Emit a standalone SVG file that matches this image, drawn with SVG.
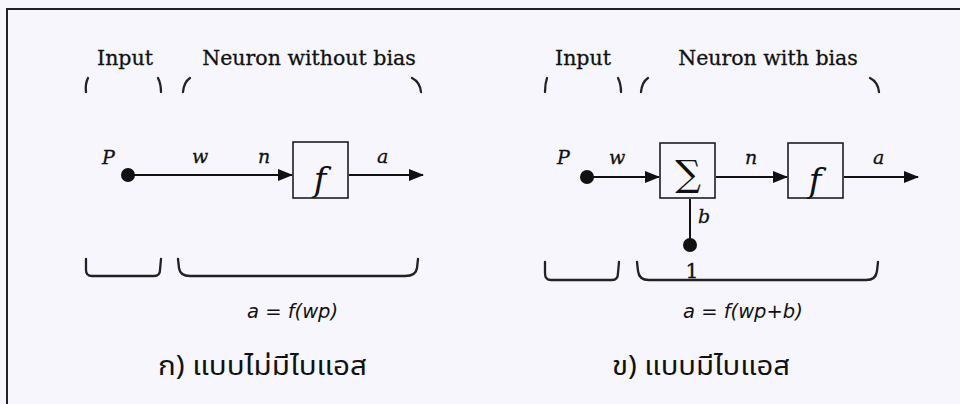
<svg xmlns="http://www.w3.org/2000/svg" width="960" height="404" viewBox="0 0 960 404">
<defs>
<marker id="arr" markerWidth="15" markerHeight="12" refX="14" refY="6" orient="auto" markerUnits="userSpaceOnUse">
<path d="M0,0 L15,6 L0,12 Z" fill="#111"/>
</marker>
<style>
.lbl{font-family:"DejaVu Serif","Liberation Serif",serif;font-size:20.5px;fill:#111;stroke:#111;stroke-width:0.3}
.var{font-family:"DejaVu Serif","Liberation Serif",serif;font-style:italic;font-size:19px;fill:#111;stroke:#111;stroke-width:0.3}
.fn{font-family:"DejaVu Serif","Liberation Serif",serif;font-style:italic;font-size:34px;fill:#111}
.sum{font-family:"DejaVu Serif","Liberation Serif",serif;font-size:36px;fill:#111}
.eq{font-family:"DejaVu Sans","Liberation Sans",sans-serif;font-style:italic;font-size:19.5px;fill:#111}
.th{font-family:"Noto Sans Thai","Tahoma","DejaVu Sans","Noto Sans",sans-serif;font-size:27px;fill:#111}
.br{fill:none;stroke:#222;stroke-width:2.3;stroke-linecap:round}
.ln{fill:none;stroke:#111;stroke-width:2}
.box{fill:none;stroke:#111;stroke-width:1.5}
</style>
</defs>
<rect width="960" height="404" fill="#f6f6fc"/>
<rect x="7" y="9" width="980" height="420" fill="none" stroke="#222" stroke-width="2"/>

<g id="panel-a">
<g id="a-labels">
<text class="lbl" x="125" y="65" text-anchor="middle">Input</text>
<text class="lbl" x="309" y="65" text-anchor="middle">Neuron without bias</text>
<path class="br" d="M88,78 Q85,84 86,92"/>
<path class="br" d="M158,78 Q161,84 161,92"/>
<path class="br" d="M190,78 Q184,82 183,92"/>
<path class="br" d="M412,78 Q420,82 421,92"/>
<path class="br" d="M86,259 L86,270 Q86,276 92,276 L154,276 Q160,276 160,270 L161,259"/>
<path class="br" d="M178,259 L179,268 Q180,276 190,276 L405,276 Q416,276 417,268 L418,259"/>
</g>
<g id="a-P"><circle cx="128" cy="175" r="7" fill="#111"/><text class="var" x="102" y="164">P</text></g>
<g id="a-f"><rect class="box" x="293" y="142" width="55" height="56"/><text class="fn" x="320" y="191" text-anchor="middle">f</text></g>
<g id="a-connectors">
<line class="ln" x1="128" y1="175" x2="292" y2="175" marker-end="url(#arr)"/>
<line class="ln" x1="349" y1="175" x2="423" y2="175" marker-end="url(#arr)"/>
</g>
<text class="var" x="192" y="163">w</text>
<text class="var" x="258" y="163">n</text>
<text class="var" x="377" y="163">a</text>
<text class="eq" x="247" y="318">a = f(wp)</text>
<text class="th" x="158" y="375" textLength="209" lengthAdjust="spacingAndGlyphs">ก) แบบไม่มีไบแอส</text>
</g>

<g id="panel-b">
<g id="b-labels">
<text class="lbl" x="583" y="65" text-anchor="middle">Input</text>
<text class="lbl" x="768" y="65" text-anchor="middle">Neuron with bias</text>
<path class="br" d="M547,78 Q545,84 545,92"/>
<path class="br" d="M618,78 Q621,84 621,92"/>
<path class="br" d="M648,78 Q642,82 641,92"/>
<path class="br" d="M870,78 Q878,82 879,92"/>
<path class="br" d="M545,262 L545,273 Q545,280 551,280 L612,280 Q618,280 618,273 L619,262"/>
<path class="br" d="M637,262 L638,271 Q639,280 649,280 L866,280 Q876,280 877,271 L878,262"/>
</g>
<g id="b-P"><circle cx="587" cy="177" r="7" fill="#111"/><text class="var" x="557" y="164">P</text></g>
<g id="b-sum"><rect class="box" x="660" y="143" width="55" height="55"/><text class="sum" x="688" y="186" text-anchor="middle">∑</text></g>
<g id="b-f"><rect class="box" x="788" y="143" width="55" height="55"/><text class="fn" x="815" y="192" text-anchor="middle">f</text></g>
<g id="b-one"><circle cx="690" cy="245" r="7" fill="#111"/><text class="lbl" x="692" y="278" text-anchor="middle">1</text></g>
<g id="b-connectors">
<line class="ln" x1="587" y1="177" x2="659" y2="177" marker-end="url(#arr)"/>
<line class="ln" x1="716" y1="177" x2="787" y2="177" marker-end="url(#arr)"/>
<line class="ln" x1="844" y1="177" x2="918" y2="177" marker-end="url(#arr)"/>
<line class="ln" x1="690" y1="199" x2="690" y2="245"/>
</g>
<text class="var" x="609" y="164">w</text>
<text class="var" x="745" y="164">n</text>
<text class="var" x="873" y="164">a</text>
<text class="var" x="698" y="223">b</text>
<text class="eq" x="683" y="318">a = f(wp+b)</text>
<text class="th" x="612" y="375" textLength="178" lengthAdjust="spacingAndGlyphs">ข) แบบมีไบแอส</text>
</g>
</svg>
